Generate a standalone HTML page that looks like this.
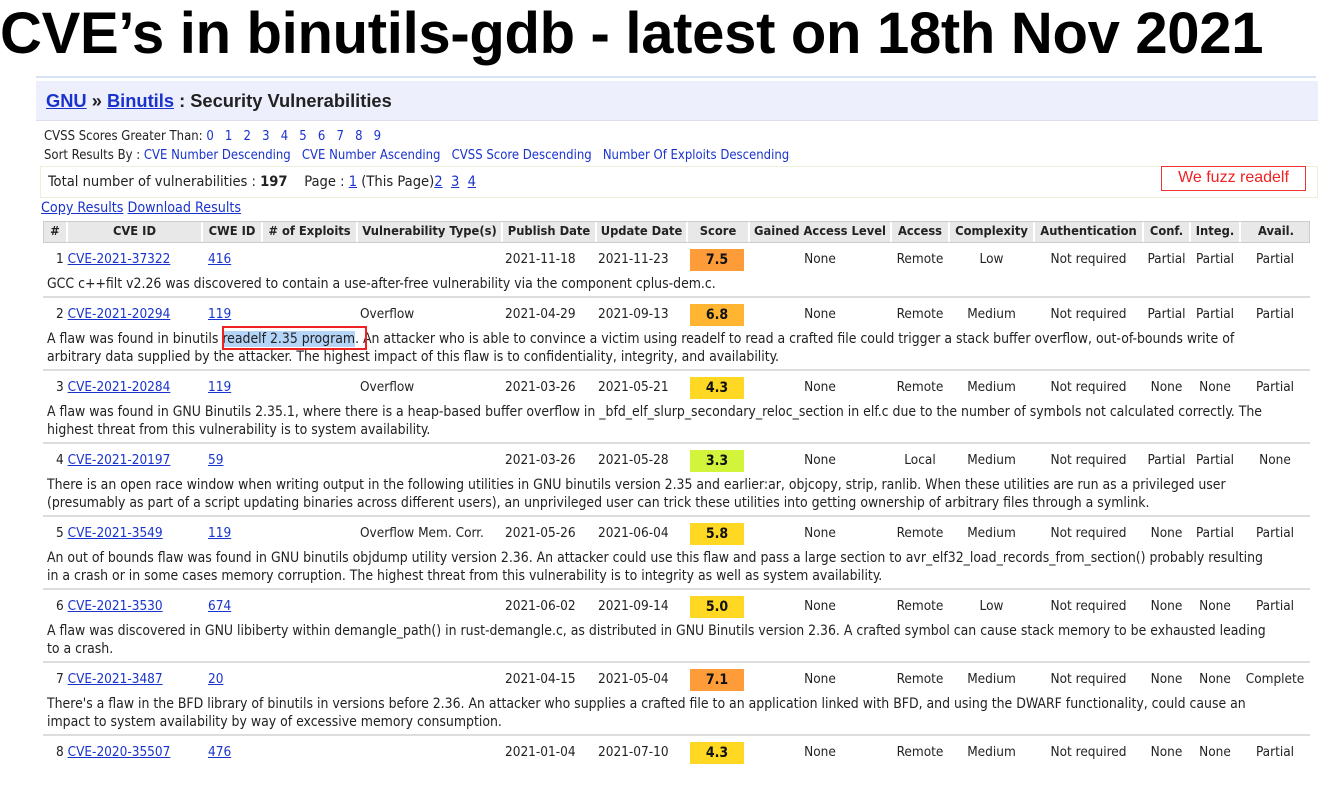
<!DOCTYPE html>
<html><head><meta charset="utf-8">
<style>
*{margin:0;padding:0;box-sizing:border-box}
body{width:1336px;height:791px;background:#fff;position:relative;overflow:hidden;font-family:"DejaVu Sans Condensed","DejaVu Sans","Liberation Sans",sans-serif;font-size:13.5px;color:#222}
.a{position:absolute;white-space:nowrap}
a{color:#1a33cc}
.u{text-decoration:underline}
.hdr{position:absolute;top:221px;left:43px;width:1267px;height:22px;background:#e8e8e8;border:1px solid #ccc}
.hc{position:absolute;top:0;height:20px;line-height:20px;text-align:center;font-weight:bold;border-right:2px solid #fff;font-size:12.8px}
.sep{position:absolute;left:43px;width:1267px;height:2px;background:#ddd}
.sc{position:absolute;width:54px;height:22px;line-height:22px;text-align:center;font-weight:bold;font-size:14px;color:#111}
.desc{position:absolute;left:47px;white-space:nowrap;line-height:18.5px;font-size:13.9px}
</style></head><body>
<div class="a" style="left:0;top:0px;font-family:'Liberation Sans',sans-serif;font-weight:bold;font-size:58px;color:#000;letter-spacing:-0.3px">CVE’s in binutils-gdb - latest on 18th Nov 2021</div>
<div class="a" style="left:36px;top:76px;width:1280px;height:2px;background:#d8e4f4"></div>
<div class="a" style="left:36px;top:81px;width:1282px;height:40px;background:#eeeffc;border-bottom:1px solid #dde"></div>
<div class="a" style="left:46px;top:90px;font-family:'Liberation Sans',sans-serif;font-weight:bold;font-size:18.3px;color:#222"><a class="u">GNU</a> » <a class="u">Binutils</a> : Security Vulnerabilities</div>
<div class="a" style="left:44px;top:129px;font-size:13px">CVSS Scores Greater Than: <a>0</a>&nbsp;&nbsp; <a>1</a>&nbsp;&nbsp; <a>2</a>&nbsp;&nbsp; <a>3</a>&nbsp;&nbsp; <a>4</a>&nbsp;&nbsp; <a>5</a>&nbsp;&nbsp; <a>6</a>&nbsp;&nbsp; <a>7</a>&nbsp;&nbsp; <a>8</a>&nbsp;&nbsp; <a>9</a></div>
<div class="a" style="left:44px;top:148px;font-size:13px">Sort Results By : <a>CVE Number Descending</a>&nbsp;&nbsp; <a>CVE Number Ascending</a>&nbsp;&nbsp; <a>CVSS Score Descending</a>&nbsp;&nbsp; <a>Number Of Exploits Descending</a></div>
<div class="a" style="left:40px;top:166px;width:1278px;height:32px;border:1px solid #eeeedd"></div>
<div class="a" style="left:48px;top:173px;font-size:14.6px">Total number of vulnerabilities : <b>197</b>&nbsp;&nbsp;&nbsp; Page : <a class="u">1</a> (This Page)<a class="u">2</a>&nbsp; <a class="u">3</a>&nbsp; <a class="u">4</a></div>
<div class="a" style="left:1161px;top:166px;width:145px;height:25px;border:1.5px solid #e33;color:#e22;font-family:'Liberation Sans',sans-serif;font-size:16px;line-height:22px;text-align:center">We fuzz readelf</div>
<div class="a" style="left:41px;top:200px;font-size:14.2px"><a class="u">Copy Results</a> <a class="u">Download Results</a></div>

<div class="hdr">
<div class="hc" style="left:0;width:24px">#</div>
<div class="hc" style="left:24px;width:135px">CVE ID</div>
<div class="hc" style="left:159px;width:60px">CWE ID</div>
<div class="hc" style="left:219px;width:95px"># of Exploits</div>
<div class="hc" style="left:314px;width:145px">Vulnerability Type(s)</div>
<div class="hc" style="left:459px;width:94px">Publish Date</div>
<div class="hc" style="left:553px;width:91px">Update Date</div>
<div class="hc" style="left:644px;width:62px">Score</div>
<div class="hc" style="left:706px;width:142px">Gained Access Level</div>
<div class="hc" style="left:848px;width:58px">Access</div>
<div class="hc" style="left:906px;width:85px">Complexity</div>
<div class="hc" style="left:991px;width:109px">Authentication</div>
<div class="hc" style="left:1100px;width:47px">Conf.</div>
<div class="hc" style="left:1147px;width:50px">Integ.</div>
<div class="hc" style="left:1197px;width:70px;border-right:none">Avail.</div>
</div>

<div id="rows"></div>
<div class="a" style="left:222px;top:326px;width:145px;height:24px;border:2px solid #e22"></div>

<script>
const ids=["CVE-2021-37322","CVE-2021-20294","CVE-2021-20284","CVE-2021-20197","CVE-2021-3549","CVE-2021-3530","CVE-2021-3487","CVE-2020-35507"];
const cwes=["416","119","119","59","119","674","20","476"];
const types=["","Overflow","Overflow","","Overflow Mem. Corr.","","",""];
const pub=["2021-11-18","2021-04-29","2021-03-26","2021-03-26","2021-05-26","2021-06-02","2021-04-15","2021-01-04"];
const upd=["2021-11-23","2021-09-13","2021-05-21","2021-05-28","2021-06-04","2021-09-14","2021-05-04","2021-07-10"];
const scores=["7.5","6.8","4.3","3.3","5.8","5.0","7.1","4.3"];
const access=["Remote","Remote","Remote","Local","Remote","Remote","Remote","Remote"];
const cplx=["Low","Medium","Medium","Medium","Medium","Low","Medium","Medium"];
const conf=["Partial","Partial","None","Partial","None","None","None","None"];
const integ=["Partial","Partial","None","Partial","Partial","None","None","None"];
const avail=["Partial","Partial","Partial","None","Partial","Partial","Complete","Partial"];
const descs=[
["GCC c++filt v2.26 was discovered to contain a use-after-free vulnerability via the component cplus-dem.c."],
["A flaw was found in binutils <span style=\"background:#b4d4f8\">readelf 2.35 program</span>. An attacker who is able to convince a victim using readelf to read a crafted file could trigger a stack buffer overflow, out-of-bounds write of","arbitrary data supplied by the attacker. The highest impact of this flaw is to confidentiality, integrity, and availability."],
["A flaw was found in GNU Binutils 2.35.1, where there is a heap-based buffer overflow in _bfd_elf_slurp_secondary_reloc_section in elf.c due to the number of symbols not calculated correctly. The","highest threat from this vulnerability is to system availability."],
["There is an open race window when writing output in the following utilities in GNU binutils version 2.35 and earlier:ar, objcopy, strip, ranlib. When these utilities are run as a privileged user","(presumably as part of a script updating binaries across different users), an unprivileged user can trick these utilities into getting ownership of arbitrary files through a symlink."],
["An out of bounds flaw was found in GNU binutils objdump utility version 2.36. An attacker could use this flaw and pass a large section to avr_elf32_load_records_from_section() probably resulting","in a crash or in some cases memory corruption. The highest threat from this vulnerability is to integrity as well as system availability."],
["A flaw was discovered in GNU libiberty within demangle_path() in rust-demangle.c, as distributed in GNU Binutils version 2.36. A crafted symbol can cause stack memory to be exhausted leading","to a crash."],
["There's a flaw in the BFD library of binutils in versions before 2.36. An attacker who supplies a crafted file to an application linked with BFD, and using the DWARF functionality, could cause an","impact to system availability by way of excessive memory consumption."],
[]
];
function color(s){s=parseFloat(s);if(s>=7)return"#ff9c3a";if(s>=6)return"#ffb531";if(s>=4)return"#ffd824";return"#d2f53c";}
const root=document.getElementById('rows');
let y=251;
function cell(x,w,txt,top){const d=document.createElement('div');d.className='a';d.style.left=x+'px';d.style.top=top+'px';if(w){d.style.width=w+'px';d.style.textAlign='center';}d.innerHTML=txt;root.appendChild(d);return d;}
for(let i=0;i<ids.length;i++){
 const t=y;
 let d;
 d=cell(56,0,(i+1)+' <a class="u">'+ids[i]+'</a>',t);
 
 
 d=cell(208,0,'<a class="u">'+cwes[i]+'</a>',t);
 
 
 d=cell(360,0,types[i],t);
 
 
 d=cell(505,0,pub[i],t);
 
 
 d=cell(598,0,upd[i],t);
 
 
 const s=document.createElement('div');s.className='sc';s.style.left='690px';s.style.top=(t-2)+'px';s.style.background=color(scores[i]);s.textContent=scores[i];root.appendChild(s);
 
 
 d=cell(749,142,'None',t);
 
 
 d=cell(891,58,access[i],t);
 
 
 d=cell(949,85,cplx[i],t);
 
 
 d=cell(1034,109,'Not required',t);
 
 
 d=cell(1143,47,conf[i],t);
 
 
 d=cell(1190,50,integ[i],t);
 
 
 d=cell(1240,70,avail[i],t);
 
 
 if(descs[i].length){
  const n=descs[i].length;
  const de=document.createElement('div');de.className='desc';de.style.top=(t+24)+'px';de.innerHTML=descs[i].join('<br>');root.appendChild(de);
  
  
  const sp=document.createElement('div');sp.className='sep';sp.style.top=(t+24+n*18.5+2)+'px';root.appendChild(sp);
  
  
  y=t+26+n*18.5+10;
 }
}
</script>
</body></html>
